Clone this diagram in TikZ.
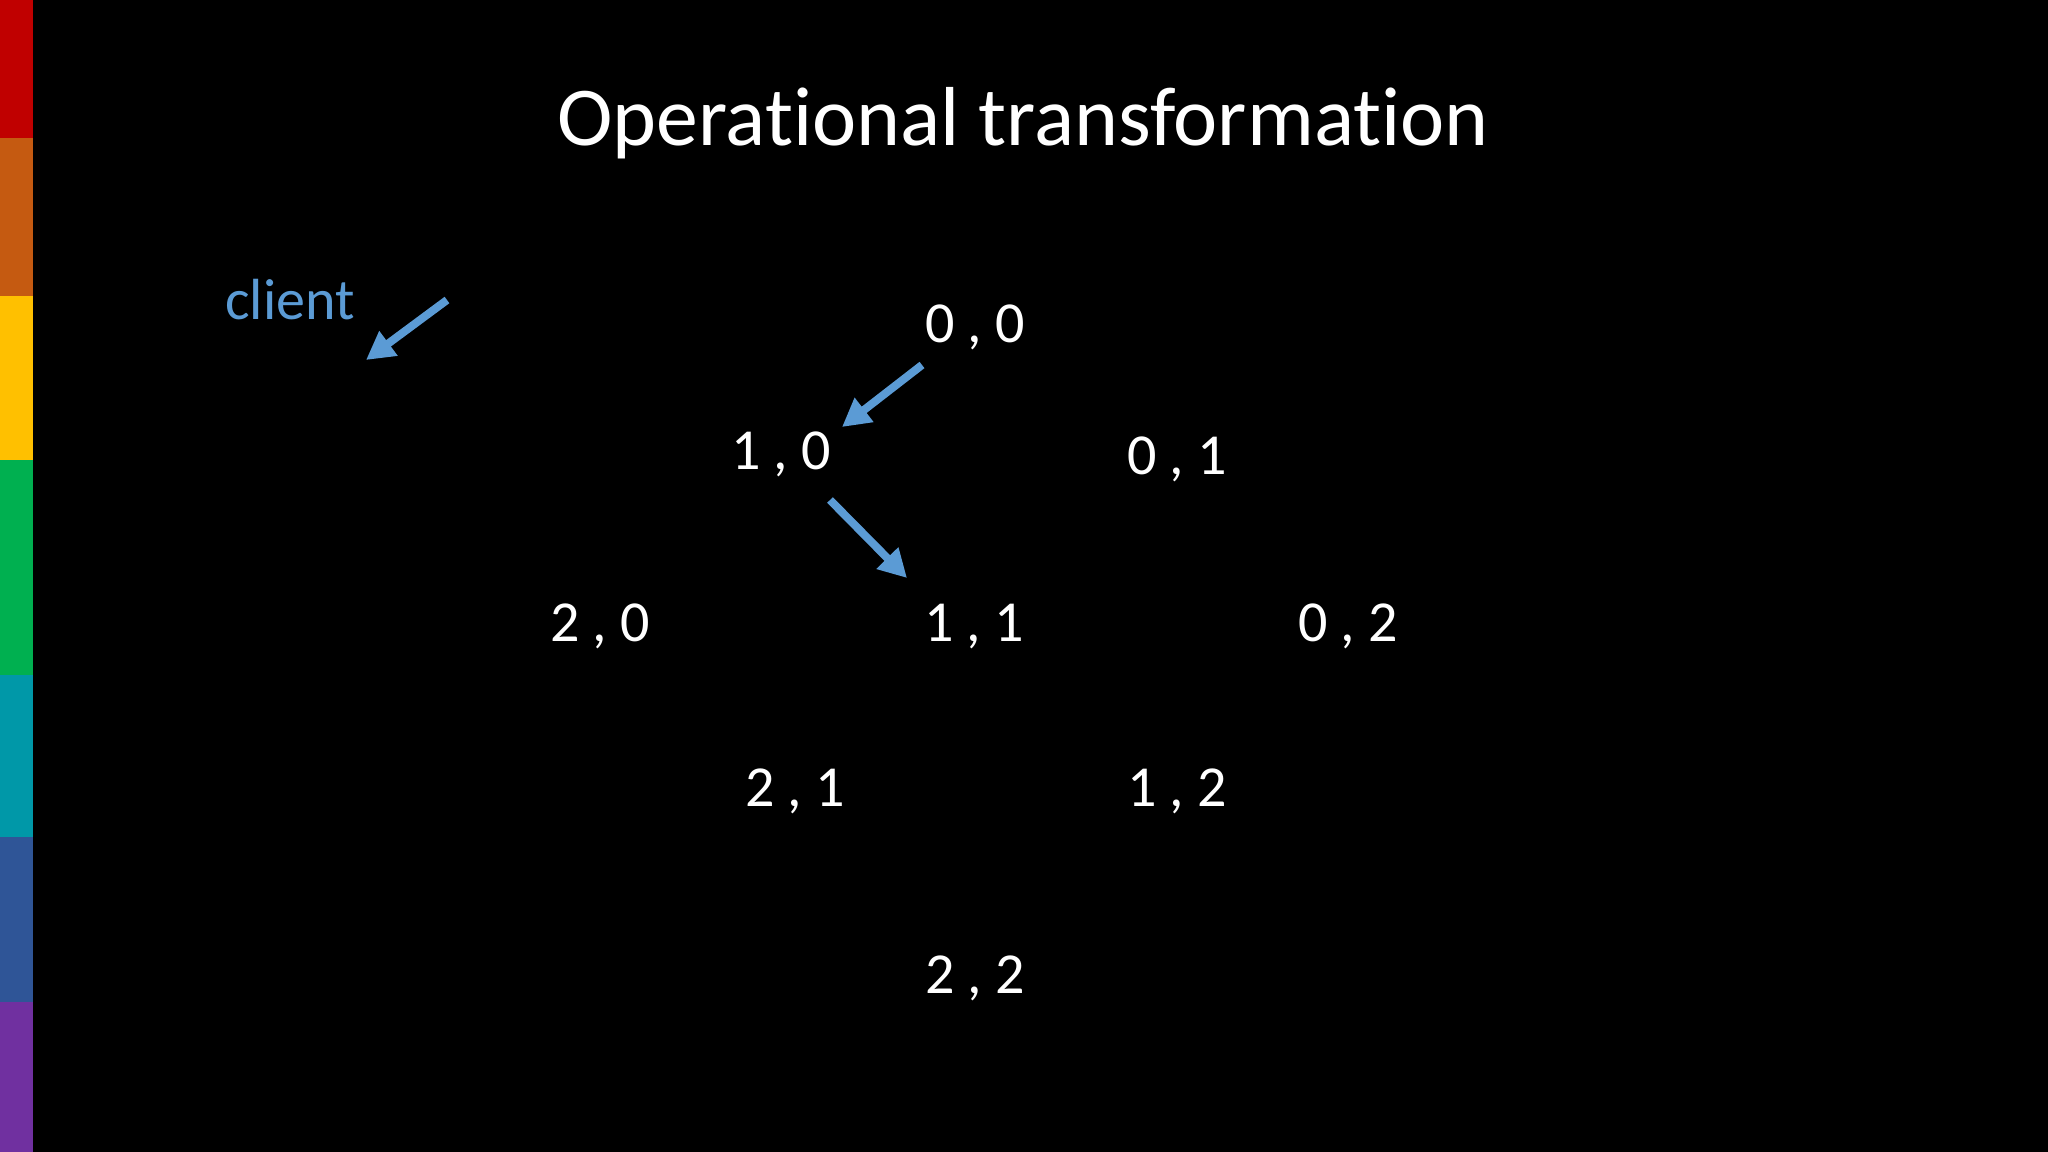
\documentclass[tikz,border=0pt]{standalone}
\usepackage{fontspec}
\setmainfont{Carlito}[Ligatures={NoCommon}]
\usepackage{tikz}
\usetikzlibrary{arrows.meta}
\definecolor{otblue}{HTML}{5B9BD5}
\definecolor{barred}{HTML}{C00000}
\definecolor{barorange}{HTML}{C55A11}
\definecolor{baryellow}{HTML}{FFC000}
\definecolor{bargreen}{HTML}{00B050}
\definecolor{barteal}{HTML}{0098A8}
\definecolor{barblue}{HTML}{2F5597}
\definecolor{barpurple}{HTML}{7030A0}
\tikzset{
    statenum/.style={text=white, anchor=base, inner sep=0pt, font=\fontsize{16.5}{20}\selectfont},
    opedge/.style={draw=otblue, line width=0.08cm, -{Triangle[length=0.28cm,width=0.29cm]}}
}

\begin{document}
\begin{tikzpicture}[x=0.01cm, y=-0.01cm]
            \fill[black] (0,0) rectangle (2048,1152);
            \useasboundingbox (0,0) rectangle (2048,1152);

            \foreach \ya/\yb/\col in {0/138/barred, 138/296/barorange, 296/460/baryellow, 460/675/bargreen, 675/837/barteal, 837/1002/barblue, 1002/1152/barpurple}
                \fill[\col] (0,\ya) rectangle (33,\yb);

            \node[text=white, anchor=base, inner sep=0pt, font=\fontsize{23.8}{28}\selectfont] (title) at (1023,146) {Operational transformation};
            \node[text=otblue, anchor=base, inner sep=0pt, font=\fontsize{16.5}{20}\selectfont] (client) at (290,320) {client};

            \node[statenum] (n00) at (975,343) {0 , 0};
            \node[statenum] (n10) at (781,470) {1 , 0};
            \node[statenum] (n01) at (1177,475) {0 , 1};
            \node[statenum] (n20) at (600,642) {2 , 0};
            \node[statenum] (n11) at (974,642) {1 , 1};
            \node[statenum] (n02) at (1348,642) {0 , 2};
            \node[statenum] (n21) at (795,806) {2 , 1};
            \node[statenum] (n12) at (1177,806) {1 , 2};
            \node[statenum] (n22) at (975,993) {2 , 2};

            \coordinate (cltail) at (447,300);
            \coordinate (cltip) at (366,360);

            \draw[opedge] (cltail) -- (cltip);
            \draw[opedge] ([shift={(-53,22)}]n00.base) -- ([shift={(61,-43)}]n10.base);
            \draw[opedge] ([shift={(49,30)}]n10.base) -- ([shift={(-67,-64)}]n11.base);
        \end{tikzpicture}
\end{document}
